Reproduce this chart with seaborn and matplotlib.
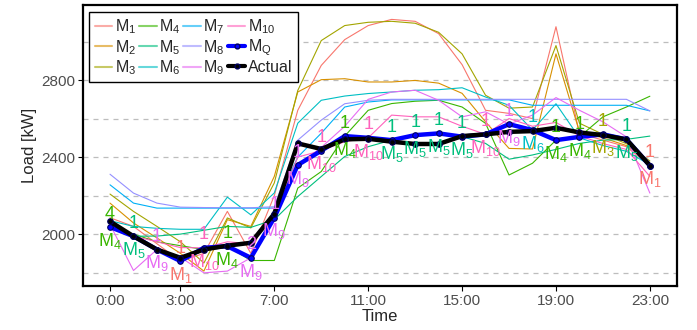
import pandas as pd
import matplotlib.pyplot as plt
import seaborn as sns
from matplotlib.lines import Line2D

# hourly load values
hours = list(range(24))
m1 = [2085, 2040, 1950, 1860, 1900, 2118, 1900, 2200, 2643, 2876, 3010, 3083, 3115, 3105, 3041, 2880, 2643, 2627, 2600, 3077, 2523, 2488, 2454, 2356]
m2 = [2161, 2058, 1980, 1900, 1808, 2075, 2040, 2300, 2738, 2802, 2807, 2790, 2790, 2798, 2784, 2731, 2583, 2445, 2442, 2936, 2531, 2500, 2460, 2370]
m3 = [2208, 2118, 2040, 1960, 1850, 2084, 2032, 2266, 2746, 3005, 3083, 3100, 3105, 3095, 3048, 2936, 2721, 2654, 2660, 2979, 2576, 2518, 2470, 2380]
m4 = [2037, 2000, 1960, 1940, 1920, 1937, 1863, 1863, 2239, 2325, 2509, 2643, 2678, 2690, 2695, 2660, 2575, 2307, 2368, 2488, 2505, 2609, 2660, 2716]
m5 = [2030, 1989, 1990, 2000, 2020, 2040, 2035, 2075, 2195, 2299, 2403, 2454, 2488, 2514, 2523, 2506, 2471, 2389, 2411, 2440, 2471, 2488, 2492, 2509]
m6 = [2070, 2040, 2030, 2025, 2025, 2192, 2100, 2214, 2576, 2695, 2717, 2730, 2738, 2747, 2750, 2760, 2712, 2669, 2540, 2677, 2500, 2460, 2430, 2360]
m7 = [2256, 2161, 2135, 2135, 2135, 2135, 2135, 2135, 2400, 2524, 2660, 2686, 2697, 2697, 2697, 2697, 2697, 2697, 2669, 2669, 2669, 2669, 2669, 2640]
m8 = [2311, 2213, 2161, 2140, 2138, 2137, 2137, 2142, 2488, 2592, 2677, 2695, 2700, 2700, 2700, 2700, 2700, 2700, 2700, 2700, 2700, 2700, 2700, 2640]
m9 = [2050, 1811, 1920, 1880, 1799, 1808, 1877, 2085, 2359, 2450, 2560, 2700, 2738, 2747, 2695, 2609, 2635, 2571, 2618, 2709, 2643, 2583, 2505, 2213]
m10 = [2050, 1990, 1960, 1930, 1929, 1960, 1950, 2100, 2400, 2433, 2480, 2500, 2618, 2609, 2609, 2560, 2518, 2600, 2560, 2580, 2510, 2470, 2440, 2300]
mq = [2037, 1989, 1920, 1860, 1929, 1937, 1877, 2085, 2359, 2433, 2509, 2500, 2488, 2514, 2523, 2506, 2518, 2571, 2540, 2488, 2505, 2518, 2492, 2356]
actual = [2066, 1989, 1920, 1877, 1920, 1940, 1955, 2106, 2471, 2442, 2492, 2495, 2480, 2468, 2468, 2509, 2518, 2531, 2535, 2552, 2528, 2514, 2492, 2356]

# model picked at each hour and the count shown above it
chosen = [4, 5, 9, 1, 10, 4, 9, 9, 9, 10, 4, 10, 5, 5, 5, 5, 10, 9, 6, 4, 4, 3, 5, 1]
counts = [4, 1, 1, 1, 1, 1, 2, 1, 1, 1, 1, 1, 1, 1, 1, 1, 1, 1, 1, 1, 1, 1, 1, 1]

xticks = [0, 3, 7, 11, 15, 19, 23]
xlabels = ["0:00", "3:00", "7:00", "11:00", "15:00", "19:00", "23:00"]

models = [m1, m2, m3, m4, m5, m6, m7, m8, m9, m10]
names = [f"M{i}" for i in range(1, 11)]
colors = ["#F8766D", "#D89000", "#A3A500", "#39B600", "#00BF7D",
          "#00BFC4", "#00B0F6", "#9590FF", "#E76BF3", "#FF62BC"]
palette = dict(zip(names, colors))

df = pd.DataFrame({
    "Hour": hours * 10,
    "Load": sum(models, []),
    "Model": [n for n in names for _ in hours],
})

sns.set_theme(style="white")
plt.rcParams["font.family"] = ["Liberation Sans", "DejaVu Sans"]
plt.rcParams["mathtext.default"] = "regular"

fig = plt.figure(figsize=(6.97, 3.3), dpi=100)
ax = fig.add_axes([0.1191, 0.133, 0.852, 0.852])

sns.lineplot(data=df, x="Hour", y="Load", hue="Model", palette=palette,
             linewidth=0.8, legend=False, ax=ax)
sns.lineplot(x=hours, y=mq, color="#0000FF", linewidth=3.2, marker="o",
             markersize=4, markerfacecolor="#0000FF", markeredgecolor="#000060",
             markeredgewidth=0.8, ax=ax)
sns.lineplot(x=hours, y=actual, color="black", linewidth=3.2, marker="o",
             markersize=4, markerfacecolor="black", markeredgecolor="#000060",
             markeredgewidth=0.8, ax=ax)

for h, v, k, c in zip(hours, mq, chosen, counts):
    col = colors[k - 1]
    ax.annotate(str(c), xy=(h, v), xytext=(0, 6), textcoords="offset points",
                ha="center", va="baseline", color=col, fontsize=13)
    ax.annotate(f"M$_{{{k}}}$", xy=(h, v), xytext=(0, -13.5), textcoords="offset points",
                ha="center", va="baseline", color=col, fontsize=13)

ax.set_xlim(-1.15, 24.15)
ax.set_ylim(1730, 3190)
ax.set_xticks(xticks)
ax.set_xticklabels(xlabels)
ax.set_yticks([2000, 2400, 2800])
ax.set_yticks([1800, 2200, 2600, 3000], minor=True)
ax.grid(axis="y", which="both", linestyle=(0, (4, 4)), color="#BDBDBD", linewidth=0.9)
ax.grid(axis="x", visible=False)
ax.set_axisbelow(True)
ax.tick_params(axis="both", which="major", length=3.5, width=0.8, color="black",
               labelsize=11, labelcolor="#4D4D4D", pad=2, bottom=True, left=True)
ax.tick_params(axis="y", which="minor", length=0)
for s in ax.spines.values():
    s.set_color("black")
    s.set_linewidth(1.6)
ax.set_xlabel("Time", fontsize=12, labelpad=1)
ax.set_ylabel("Load [kW]", fontsize=12, labelpad=3)

handles = [Line2D([], [], color=c, lw=1.5, alpha=0.6) for c in colors]
handles.append(Line2D([], [], color="#0000FF", lw=3, marker="o", markersize=3.5,
                      markeredgecolor="#000060"))
handles.append(Line2D([], [], color="black", lw=3, marker="o", markersize=3.5,
                      markeredgecolor="#000060"))
labels = [f"M$_{{{i}}}$" for i in range(1, 11)] + ["M$_{Q}$", "Actual"]
leg = ax.legend(handles, labels, ncol=4, loc="upper left", bbox_to_anchor=(0.01, 0.975),
                borderaxespad=0, fontsize=11.5, handlelength=1.1, handletextpad=0.15,
                columnspacing=0.2, labelspacing=0.1, borderpad=0.35,
                frameon=True, fancybox=False, framealpha=1)
leg.get_frame().set_edgecolor("black")
leg.get_frame().set_linewidth(1.0)

fig.savefig("out.png", dpi=100)
